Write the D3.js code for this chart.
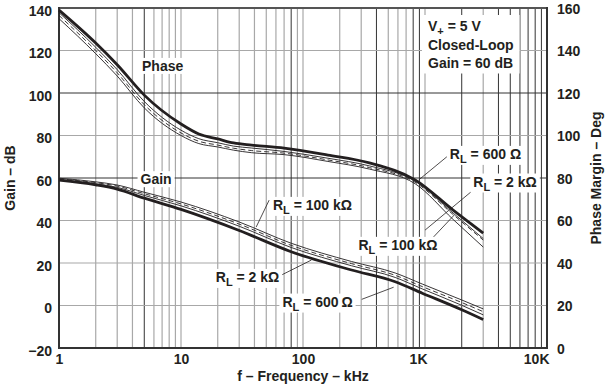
<!DOCTYPE html>
<html>
<head>
<meta charset="utf-8">
<script src="https://cdn.jsdelivr.net/npm/d3@7"></script>
<style>
body { margin: 0; background: white; }
svg text { font-family: "Liberation Sans", Arial, Helvetica, sans-serif; font-weight: bold; fill: #231f20; }
.grid { stroke: #a8a8a8; stroke-width: 1.2; }
.grid.dark { stroke: #333; stroke-width: 1; }
.curve { fill: none; stroke: #231f20; }
</style>
</head>
<body>
<svg width="611" height="385"></svg>
<script>
// frequency in kHz
var freqPhase = [1, 2, 3, 5, 10, 14, 20, 27, 38, 70, 160, 350, 830, 1700, 3000];
// phase margin, deg
var phase600  = [159, 143.5, 133.3, 119, 105.4, 100.7, 98.4, 96.5, 95.5, 94.1, 90.8, 87.1, 79.1, 64.9, 54.1];
var phase2k   = [157.8, 141.5, 131.0, 116, 102.5, 98.5, 96.6, 95.0, 94.1, 92.5, 89.3, 85.7, 78.5, 63.5, 51.5];
var phaseMid  = [156.5, 140.0, 129.5, 114.5, 101.2, 97.3, 95.5, 94.0, 92.9, 91.7, 88.5, 84.9, 78.0, 62.8, 50.8];
var phase100k = [155, 138.5, 128.0, 113, 100.0, 96.2, 94.6, 93.1, 91.9, 91.0, 87.8, 84.2, 77.3, 60.5, 47.5];

var freqGain = [1, 2, 3, 5, 10, 30, 80, 250, 570, 950, 2000, 3000];
// gain, dB
var gain600  = [59, 56.8, 54.8, 50.5, 45.2, 35.3, 25.3, 16.7, 11.2, 5.8, -2.0, -6.6];
var gain2k   = [59.3, 57.3, 55.6, 51.8, 46.9, 37.3, 27.3, 18.7, 13.2, 7.8, 0.1, -4.4];
var gainMid  = [59.6, 57.8, 56.2, 52.6, 47.8, 38.3, 28.3, 19.7, 14.2, 8.9, 1.4, -2.9];
var gain100k = [59.9, 58.2, 56.7, 53.3, 48.7, 39.3, 29.3, 20.7, 15.3, 10.1, 2.6, -1.6];

var xTicks = [1, 10, 100, 1000, 10000];
var xTickLabels = ["1", "10", "100", "1K", "10K"];
var gainTicks = [-20, 0, 20, 40, 60, 80, 100, 120, 140];
var phaseTicks = [0, 20, 40, 60, 80, 100, 120, 140, 160];
// grid lines that print darker in the original
var darkFreqs = [5, 80, 400, 800, 900, 2000, 4000, 5000, 6000, 7000, 8000, 9000];
var darkGains = [60, 100];

var svg = d3.select("svg");
var x = d3.scaleLog().domain([1, 10000]).range([59, 547]);
var yL = d3.scaleLinear().domain([-20, 140]).range([348, 8]);
var yR = d3.scaleLinear().domain([0, 160]).range([348, 8]);

// grid
var minor = [];
[1, 10, 100, 1000].forEach(function(d){
  for (var k = 2; k <= 9; k++) minor.push(d * k);
});
minor = minor.concat([10, 100, 1000]);
svg.append("g").selectAll("line").data(minor).enter().append("line")
  .attr("class", function(d){ return darkFreqs.indexOf(d) >= 0 ? "grid dark" : "grid"; })
  .attr("x1", function(d){ return x(d); }).attr("x2", function(d){ return x(d); })
  .attr("y1", yL(140)).attr("y2", yL(-20));
svg.append("g").selectAll("line").data(gainTicks.slice(1, -1)).enter().append("line")
  .attr("class", function(d){ return darkGains.indexOf(d) >= 0 ? "grid dark" : "grid"; })
  .attr("x1", x(1)).attr("x2", x(10000))
  .attr("y1", function(d){ return yL(d); }).attr("y2", function(d){ return yL(d); });

// frame
svg.append("line").attr("x1", x(1)).attr("x2", x(10000)).attr("y1", yL(140)).attr("y2", yL(140))
  .style("stroke", "#555").style("stroke-width", 2);
svg.append("line").attr("x1", x(1)).attr("x2", x(10000)).attr("y1", yL(-20)).attr("y2", yL(-20))
  .style("stroke", "#333").style("stroke-width", 2);
svg.append("line").attr("x1", x(1)).attr("x2", x(1)).attr("y1", yL(140) - 1).attr("y2", yL(-20) + 1)
  .style("stroke", "#333").style("stroke-width", 2);
svg.append("line").attr("x1", x(10000)).attr("x2", x(10000)).attr("y1", yL(140) - 1).attr("y2", yL(-20) + 1)
  .style("stroke", "#333").style("stroke-width", 2);

// axes
var axL = svg.append("g").attr("transform", "translate(" + x(1) + ",0)")
  .call(d3.axisLeft(yL).tickValues(gainTicks).tickSize(0).tickPadding(7));
var axR = svg.append("g").attr("transform", "translate(" + x(10000) + ",0)")
  .call(d3.axisRight(yR).tickValues(phaseTicks).tickSize(0).tickPadding(10));
var axB = svg.append("g").attr("transform", "translate(0," + yL(-20) + ")")
  .call(d3.axisBottom(x).tickValues(xTicks).tickSize(0).tickPadding(6)
    .tickFormat(function(d, i){ return xTickLabels[i]; }));
[axL, axR, axB].forEach(function(a){
  a.select(".domain").remove();
  a.selectAll("text").style("font-size", "14px").style("font-family", null).attr("fill", null);
});
axL.selectAll("text").attr("dy", "0.5em");
axR.selectAll("text").attr("dy", "0.36em");
axB.selectAll("text").filter(function(d, i){ return /K$/.test(xTickLabels[i]); })
  .attr("text-anchor", "end").attr("dx", "2");

// axis titles
svg.append("text").attr("transform", "translate(15,178) rotate(-90)")
  .attr("text-anchor", "middle").style("font-size", "14px").text("Gain \u2013 dB");
svg.append("text").attr("transform", "translate(601,178) rotate(-90)")
  .attr("text-anchor", "middle").style("font-size", "14px").text("Phase Margin \u2013 Deg");
svg.append("text").attr("x", 303).attr("y", 381)
  .attr("text-anchor", "middle").style("font-size", "14px").text("f \u2013 Frequency \u2013 kHz");

// curves
function drawCurve(freqs, vals, yScale, width, dash) {
  var line = d3.line()
    .x(function(d, i){ return x(freqs[i]); })
    .y(function(d){ return yScale(d); })
    .curve(d3.curveMonotoneX);
  svg.append("path").datum(vals).attr("class", "curve").attr("d", line)
    .style("stroke-width", width).style("stroke-dasharray", dash || null);
}
drawCurve(freqPhase, phase100k, yR, 0.9);
drawCurve(freqPhase, phaseMid, yR, 0.9, "5,3");
drawCurve(freqPhase, phase2k, yR, 0.9);
drawCurve(freqPhase, phase600, yR, 2.8);
drawCurve(freqGain, gain100k, yL, 0.9);
drawCurve(freqGain, gainMid, yL, 0.9, "5,3");
drawCurve(freqGain, gain2k, yL, 0.9);
drawCurve(freqGain, gain600, yL, 2.8);

// labels (positions in kHz / dB on the gain axis)
var labels = [
  {t: "Phase", f: 7.07, v: 112.7},
  {t: "Gain", f: 6.25, v: 59.4},
  {rl: "100 k\u03a9", f: 119.5, v: 47.3, lead: [[52.8, 49.6], [41.3, 36.9]]},
  {rl: "2 k\u03a9", f: 35.1, v: 13.4, lead: [[66.4, 14.3], [117.3, 21.4]]},
  {rl: "600\u2009\u03a9", f: 131.5, v: 1.8, lead: [[303, 2.9], [553, 8.6]]},
  {rl: "600 \u03a9", f: 3131, v: 71.3, lead: [[1571, 70.8], [889, 59.1]]},
  {rl: "2 k\u03a9", f: 4530, v: 58.3, lead: [[2541, 54.8], [1002, 35.5]]},
  {rl: "100 k\u03a9", f: 600, v: 28.5, lead: [[1079, 30.0], [1738, 42.6]]}
];
labels.forEach(function(l){
  if (l.lead) {
    svg.append("line")
      .attr("x1", x(l.lead[0][0])).attr("y1", yL(l.lead[0][1]))
      .attr("x2", x(l.lead[1][0])).attr("y2", yL(l.lead[1][1]))
      .style("stroke", "#231f20").style("stroke-width", 0.8);
  }
});
labels.forEach(function(l){
  var bg = svg.append("rect").style("fill", "white");
  var t = svg.append("text").attr("x", x(l.f)).attr("y", yL(l.v)).attr("dy", "0.35em")
    .attr("text-anchor", "middle").style("font-size", "14px");
  if (l.t) {
    t.text(l.t);
  } else {
    t.append("tspan").text("R");
    t.append("tspan").attr("dy", 4).style("font-size", "11px").text("L");
    t.append("tspan").attr("dy", -4).text(" = " + l.rl);
  }
  var b = t.node().getBBox();
  bg.attr("x", b.x - 3).attr("y", b.y).attr("width", b.width + 6).attr("height", b.height);
});

// conditions box
var cond = svg.append("g");
var condBg = cond.append("rect").style("fill", "white");
var ct = cond.append("text").attr("x", 428).attr("y", 31).style("font-size", "14px");
ct.append("tspan").text("V");
ct.append("tspan").attr("dy", 4).style("font-size", "11px").text("+");
ct.append("tspan").attr("dy", -4).text("  = 5 V");
cond.append("text").attr("x", 428).attr("y", 49.5).style("font-size", "14px").text("Closed-Loop");
cond.append("text").attr("x", 428).attr("y", 67.5).style("font-size", "14px").text("Gain = 60 dB");
var cb = cond.node().getBBox();
condBg.attr("x", cb.x - 6).attr("y", cb.y - 3).attr("width", cb.width + 12).attr("height", cb.height + 6);
</script>
</body>
</html>
